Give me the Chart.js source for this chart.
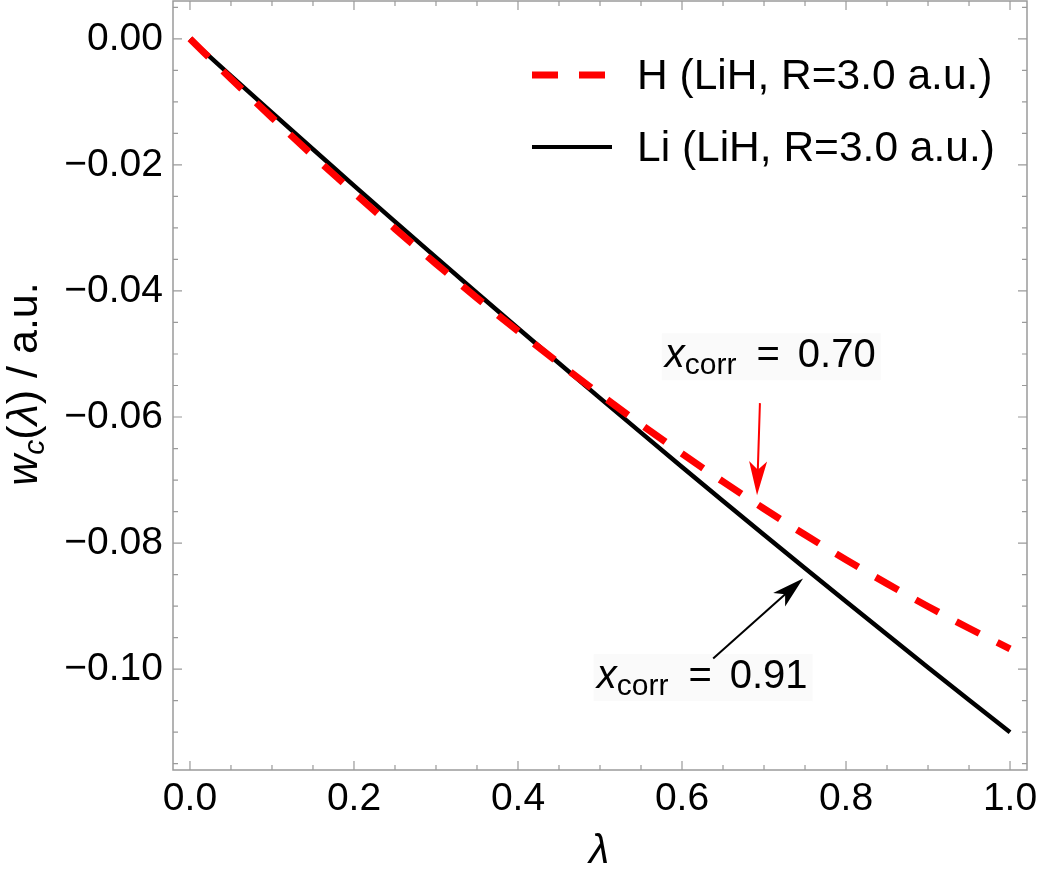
<!DOCTYPE html>
<html>
<head>
<meta charset="utf-8">
<script src="https://cdn.jsdelivr.net/npm/chart.js@4.4.1/dist/chart.umd.min.js"></script>
<style>
html,body{margin:0;padding:0;background:#fff;}
canvas{display:block;}
</style>
</head>
<body>
<canvas id="c" width="1042" height="880"></canvas>
<script>
// ---- data ----
const lambdaValues = [0,0.05,0.1,0.15,0.2,0.25,0.3,0.35,0.4,0.45,0.5,0.55,0.6,0.65,0.7,0.75,0.8,0.85,0.9,0.95,1.0];
const hValues  = [0,-0.00633,-0.0125,-0.01853,-0.0244,-0.03013,-0.03569,-0.04111,-0.04636,-0.05146,-0.0564,-0.06118,-0.0658,-0.07026,-0.07455,-0.07868,-0.08264,-0.08643,-0.09006,-0.09351,-0.0968];
const liValues = [0,-0.00588,-0.01172,-0.01752,-0.02328,-0.0290,-0.03468,-0.04032,-0.04592,-0.05148,-0.057,-0.06248,-0.06792,-0.07332,-0.07868,-0.084,-0.08928,-0.09452,-0.09972,-0.10488,-0.110];
const seriesLabels = ['H (LiH, R=3.0 a.u.)', 'Li (LiH, R=3.0 a.u.)'];
const xTicks = [0,0.2,0.4,0.6,0.8,1.0];
const yTicks = [0,-0.02,-0.04,-0.06,-0.08,-0.10];
const xTickLabels = ['0.0','0.2','0.4','0.6','0.8','1.0'];
const yTickLabels = ['0.00','\u22120.02','\u22120.04','\u22120.06','\u22120.08','\u22120.10'];
const annotationValues = ['0.70','0.91'];

const FONT = "'Liberation Sans', Arial, Helvetica, sans-serif";
const FRAME = '#9a9a9a';

function italic(sz){return 'italic '+sz+'px '+FONT;}
function regular(sz){return sz+'px '+FONT;}

function drawXcorr(ctx, x, y, val){
  ctx.save();
  ctx.textAlign='left'; ctx.textBaseline='alphabetic';
  ctx.font = italic(40); const w1 = ctx.measureText('x').width;
  ctx.font = regular(30); const w2 = ctx.measureText('corr').width;
  ctx.font = regular(40); const w3 = ctx.measureText('=').width; const w4 = ctx.measureText(val).width;
  const total = w1+w2+20+w3+18+w4;
  ctx.fillStyle = 'rgba(240,240,240,0.35)';
  ctx.fillRect(x-3, y-34, total+8, 47);
  ctx.fillStyle='#000';
  let cx = x;
  ctx.font = italic(40); ctx.fillText('x', cx, y); cx += w1;
  ctx.font = regular(30); ctx.fillText('corr', cx, y+7); cx += w2 + 20;
  ctx.font = regular(40); ctx.fillText('=', cx, y); cx += w3 + 18;
  ctx.fillText(val, cx, y);
  ctx.restore();
}

function arrow(ctx, x1, y1, x2, y2, color, lw, headLen, headW){
  const ang = Math.atan2(y2-y1, x2-x1);
  const bx = x2 - headLen*Math.cos(ang), by = y2 - headLen*Math.sin(ang);
  ctx.save();
  ctx.strokeStyle=color; ctx.fillStyle=color; ctx.lineWidth=lw;
  ctx.beginPath(); ctx.moveTo(x1,y1); ctx.lineTo(bx+ (headLen*0.3)*Math.cos(ang), by+(headLen*0.3)*Math.sin(ang)); ctx.stroke();
  const px = -Math.sin(ang), py = Math.cos(ang);
  const nx = x2 - headLen*0.75*Math.cos(ang), ny = y2 - headLen*0.75*Math.sin(ang);
  ctx.beginPath();
  ctx.moveTo(x2,y2);
  ctx.lineTo(bx + px*headW/2, by + py*headW/2);
  ctx.lineTo(nx, ny);
  ctx.lineTo(bx - px*headW/2, by - py*headW/2);
  ctx.closePath(); ctx.fill();
  ctx.restore();
}

const decor = {
  id:'decor',
  afterDatasetsDraw(chart){
    const ctx = chart.ctx, a = chart.chartArea, xs = chart.scales.x, ys = chart.scales.y;
    ctx.save();
    // frame
    ctx.strokeStyle = FRAME; ctx.lineWidth = 1.5;
    ctx.strokeRect(a.left, a.top, a.right-a.left, a.bottom-a.top);
    // ticks
    ctx.lineWidth = 1.2;
    ctx.beginPath();
    for (let i=0;i<=20;i++){
      const v = i*0.05; const px = xs.getPixelForValue(v);
      const len = (i%4===0) ? 9 : 5;
      ctx.moveTo(px, a.bottom); ctx.lineTo(px, a.bottom-len);
      ctx.moveTo(px, a.top); ctx.lineTo(px, a.top+len);
    }
    for (let i=-1;i<=23;i++){
      const v = -i*0.005; if (v < ys.min || v > ys.max) continue;
      const py = ys.getPixelForValue(v);
      const len = (i%4===0) ? 9 : 5;
      ctx.moveTo(a.left, py); ctx.lineTo(a.left+len, py);
      ctx.moveTo(a.right, py); ctx.lineTo(a.right-len, py);
    }
    ctx.stroke();

    // legend
    ctx.lineCap='butt';
    ctx.strokeStyle='#ff0000'; ctx.lineWidth=7; ctx.setLineDash([26,21]);
    ctx.beginPath(); ctx.moveTo(532,75); ctx.lineTo(606,75); ctx.stroke();
    ctx.setLineDash([]);
    ctx.strokeStyle='#000'; ctx.lineWidth=4;
    ctx.beginPath(); ctx.moveTo(532,147); ctx.lineTo(612,147); ctx.stroke();
    ctx.fillStyle='#000'; ctx.font = regular(42.5); ctx.textBaseline='alphabetic'; ctx.textAlign='left';
    ctx.fillText(seriesLabels[0], 637, 89);
    ctx.fillText(seriesLabels[1], 637, 161);

    // annotations
    drawXcorr(ctx, xs.getPixelForValue(0.579), ys.getPixelForValue(-0.0521), annotationValues[0]);
    drawXcorr(ctx, xs.getPixelForValue(0.496), ys.getPixelForValue(-0.1030), annotationValues[1]);
    arrow(ctx, xs.getPixelForValue(0.695), ys.getPixelForValue(-0.0578), xs.getPixelForValue(0.6915), ys.getPixelForValue(-0.0724), '#ff0000', 2, 34, 18);
    arrow(ctx, xs.getPixelForValue(0.638), ys.getPixelForValue(-0.0983), xs.getPixelForValue(0.7476), ys.getPixelForValue(-0.0856), '#000', 2, 32, 18);

    // x title
    ctx.font = italic(41); ctx.textAlign='center'; ctx.fillStyle='#000';
    ctx.fillText('\u03bb', 599, 863);

    // y title (rotated, mixed fonts)
    const parts = [
      ['w', italic(43), 0], ['c', italic(30), 7], ['(', regular(43), 0], ['\u03bb', italic(43), 0], [')', regular(43), 0], [' / a.u.', regular(43), 0]
    ];
    let total = 0;
    parts.forEach(p=>{ctx.font=p[1]; p.push(ctx.measureText(p[0]).width); total += p[3];});
    ctx.translate(37, 384); ctx.rotate(-Math.PI/2);
    ctx.textAlign='left';
    let cx = -total/2;
    parts.forEach(p=>{ctx.font=p[1]; ctx.fillText(p[0], cx, p[2]); cx += p[3];});
    ctx.restore();
  }
};

const ctx = document.getElementById('c').getContext('2d');
new Chart(ctx, {
  type: 'line',
  data: {
    datasets: [
      {label: seriesLabels[0], data: lambdaValues.map((x,i)=>({x:x, y:hValues[i]})), borderColor:'#ff0000', borderWidth:7, borderDash:[26,20], pointRadius:0, fill:false, cubicInterpolationMode:'monotone', borderCapStyle:'butt'},
      {label: seriesLabels[1], data: lambdaValues.map((x,i)=>({x:x, y:liValues[i]})), borderColor:'#000000', borderWidth:4.5, pointRadius:0, fill:false, cubicInterpolationMode:'monotone'}
    ]
  },
  options: {
    responsive:false, animation:false, events:[],
    layout:{padding:{top:1, right:15, left:0, bottom:0}},
    plugins:{legend:{display:false}, tooltip:{enabled:false}, title:{display:false}},
    scales:{
      x:{
        type:'linear', min:-0.0207, max:1.0207,
        afterBuildTicks: s => { s.ticks = xTicks.map(v=>({value:v})); },
        afterFit: s => { s.height = 110; s.paddingLeft = 0; s.paddingRight = 0; },
        grid:{display:false, drawTicks:false}, border:{display:false},
        ticks:{color:'#000', font:{family:FONT, size:39}, padding:6, maxRotation:0, autoSkip:false,
          callback:(v)=>{ const i = xTicks.findIndex(t=>Math.abs(t-v)<1e-9); return i>=0 ? xTickLabels[i] : ''; }}
      },
      y:{
        type:'linear', min:-0.116, max:0.006,
        afterBuildTicks: s => { s.ticks = yTicks.map(v=>({value:v})); },
        afterFit: s => { s.width = 173; s.paddingTop = 0; s.paddingBottom = 0; },
        grid:{display:false, drawTicks:false}, border:{display:false},
        ticks:{color:'#000', font:{family:FONT, size:39}, padding:10, autoSkip:false,
          callback:(v)=>{ const i = yTicks.findIndex(t=>Math.abs(t-v)<1e-9); return i>=0 ? yTickLabels[i] : ''; }}
      }
    }
  },
  plugins:[decor]
});
</script>
</body>
</html>
